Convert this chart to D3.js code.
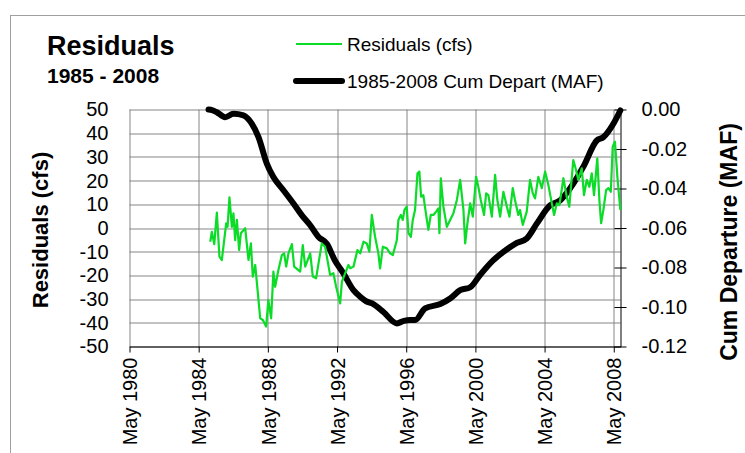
<!DOCTYPE html>
<html>
<head>
<meta charset="utf-8">
<script src="https://cdn.jsdelivr.net/npm/d3@7"></script>
<style>
  body { margin: 0; background: #fff; }
  svg { font-family: "Liberation Sans", Arial, sans-serif; }
</style>
</head>
<body>
<div id="chart"></div>
<script>
// residuals (cfs), decimal year / value
var resYears = [1985.0, 1985.09, 1985.23, 1985.38, 1985.53, 1985.67, 1985.92, 1986.0, 1986.11, 1986.25,
  1986.34, 1986.44, 1986.54, 1986.67, 1986.77, 1987.02, 1987.21, 1987.35, 1987.46, 1987.6,
  1987.89, 1988.04, 1988.23, 1988.36, 1988.52, 1988.65, 1988.75, 1988.94, 1989.14, 1989.27,
  1989.39, 1989.52, 1989.72, 1989.85, 1990.2, 1990.35, 1990.49, 1990.78, 1990.93, 1991.12,
  1991.26, 1991.45, 1991.64, 1991.93, 1992.12, 1992.28, 1992.51, 1992.61, 1992.8, 1992.99,
  1993.09, 1993.28, 1993.51, 1993.67, 1993.86, 1994.05, 1994.2, 1994.34, 1994.53, 1994.72,
  1994.82, 1994.98, 1995.21, 1995.4, 1995.56, 1995.79, 1995.88, 1996.02, 1996.13, 1996.23,
  1996.36, 1996.46, 1996.6, 1996.71, 1996.84, 1996.98, 1997.09, 1997.19, 1997.32, 1997.48,
  1997.61, 1997.75, 1997.9, 1998.06, 1998.19, 1998.25, 1998.33, 1998.48, 1998.68, 1998.87,
  1999.06, 1999.26, 1999.45, 1999.64, 1999.74, 1999.87, 2000.03, 2000.18, 2000.37, 2000.5,
  2000.64, 2000.83, 2000.95, 2001.08, 2001.28, 2001.47, 2001.6, 2001.76, 2001.95, 2002.15,
  2002.3, 2002.49, 2002.62, 2002.81, 2002.91, 2003.07, 2003.3, 2003.49, 2003.65, 2003.78,
  2003.97, 2004.17, 2004.36, 2004.55, 2004.75, 2004.88, 2005.04, 2005.19, 2005.42, 2005.61,
  2005.76, 2005.9, 2005.99, 2006.15, 2006.28, 2006.48, 2006.61, 2006.77, 2006.92, 2007.06,
  2007.19, 2007.38, 2007.5, 2007.6, 2007.73, 2007.89, 2008.02, 2008.16, 2008.27, 2008.4,
  2008.54, 2008.71]
var resValues = [-5.8, -1.6, -6.8, 6.5, -12.1, -13.5, 2, 0.5, 12.9, 0.5,
  6.2, -5.1, 3.4, -9.3, -2.2, -0.1, -13.5, -6.5, -20.5, -15.6,
  -38.1, -38.8, -41.6, -30.4, -38.1, -18.4, -24.8, -17.7, -11.4, -10.7,
  -16.3, -10.7, -6.8, -16.3, -18.4, -7.2, -16.3, -10.7, -20.5, -21.2,
  -14.9, -6.5, -7.9, -19.8, -19.1, -24.8, -31.8, -22.7, -19.1, -15.6,
  -17, -16.3, -9.3, -10.7, -5.8, -6.5, -10, 5.5, -3.7, -10.7,
  -17, -7.9, -8.6, -10.7, -11.4, -5.1, 3.4, 5.5, 3.4, 7.6,
  9, -2.2, -3.7, 3.4, 7.6, 23.1, 23.8, 13.2, 13.9, 5.5,
  -0.8, 5.5, 5.5, 6.9, 8.3, -2.2, 21, 9, 0.5, 3.4,
  6.2, 11.8, 20.3, 7.6, -6.5, 2, 10.4, 4.8, 21.6, 17.4,
  11.8, 5.5, 14.6, 13.9, 4.8, 22.4, 11.8, 4.8, 15.3, 9,
  4.8, 16.8, 11.8, 5.5, 7.6, 1.3, 6.9, 20.3, 14.6, 12.5,
  21.6, 16.8, 23.8, 18.1, 10.4, 5.5, 10.4, 9.7, 21, 13.2,
  9, 21, 28.7, 24.5, 20.3, 25.2, 13.9, 20.3, 17.4, 23.1,
  13.9, 29.4, 11.8, 2, 7.6, 16, 16.8, 15.3, 34.3, 36.4,
  21.6, 7.6]

// 1985-2008 cumulative departure (MAF)
var cumYears = [1984.9, 1985.1, 1985.38, 1985.86, 1986.34, 1986.92, 1987.4, 1987.79, 1988.27, 1988.65,
  1989.23, 1989.81, 1990.3, 1990.78, 1991.26, 1991.74, 1992.2, 1992.7, 1993.28, 1993.67,
  1994.0, 1994.43, 1995.0, 1995.79, 1996.2, 1996.56, 1996.85, 1997.42, 1998.3, 1998.87,
  1999.45, 2000.03, 2000.6, 2001.37, 2001.95, 2002.63, 2003.3, 2003.88, 2004.65, 2005.23,
  2005.8, 2006.57, 2007.35, 2007.73, 2008.31, 2008.71]
var cumValues = [0, -0.0003, -0.0014, -0.0039, -0.0022, -0.003, -0.0072, -0.014, -0.0274, -0.0342,
  -0.0409, -0.0476, -0.0536, -0.0586, -0.0645, -0.068, -0.0763, -0.083, -0.0915, -0.0948,
  -0.097, -0.0985, -0.1024, -0.1083, -0.107, -0.1066, -0.1066, -0.1007, -0.0985, -0.0957,
  -0.0915, -0.09, -0.0838, -0.0763, -0.0721, -0.068, -0.0653, -0.0578, -0.0485, -0.046,
  -0.04, -0.029, -0.0157, -0.014, -0.0072, -0.0005]

var xTickDates = ["1980-05-01", "1984-05-01", "1988-05-01", "1992-05-01", "1996-05-01", "2000-05-01", "2004-05-01", "2008-05-01"]
var leftTicks = [50, 40, 30, 20, 10, 0, -10, -20, -30, -40, -50]
var rightTicks = [0, -0.02, -0.04, -0.06, -0.08, -0.10, -0.12]
var legendNames = ["Residuals (cfs)", "1985-2008 Cum Depart (MAF)"]
var seriesColors = ["#0adc28", "#000000"]

function decToDate(y){
    var yr = Math.floor(y)
    var start = new Date(yr, 0, 1), end = new Date(yr + 1, 0, 1)
    return new Date(+start + (y - yr) * (end - start))
}
var parseDay = d3.timeParse("%Y-%m-%d")
// excel style: plain hyphen for negatives
var hyphenFormat = d3.formatLocale({decimal: ".", thousands: ",", grouping: [3], currency: ["", ""], minus: "-"})

var width = 745, height = 453
var margin = {top: 109.5, right: 124.5, bottom: 106.5, left: 129.5}
var plotW = width - margin.left - margin.right,
    plotH = height - margin.top - margin.bottom

var svg = d3.select("#chart").append("svg")
    .attr("width", width).attr("height", height)

// chart frame
svg.append("rect").attr("x", 10.5).attr("y", 15.5).attr("width", 760).attr("height", 460)
    .style("fill", "none").style("stroke", "#a0a0a0").style("stroke-width", 1)

var g = svg.append("g").attr("transform", "translate(" + margin.left + "," + margin.top + ")")

var x = d3.scaleTime()
    .domain([parseDay("1980-05-01"), decToDate(2008.72)])
    .range([0, plotW])
var yL = d3.scaleLinear().domain([-50, 50]).range([plotH, 0])
var yR = d3.scaleLinear().domain([-0.12, 0]).range([plotH, 0])

var tickDates = xTickDates.map(parseDay)

// gridlines
g.append("g").selectAll("line").data(leftTicks).enter().append("line")
    .attr("x1", 0).attr("x2", plotW)
    .attr("y1", function(d){ return Math.round(yL(d)) + 0.5 })
    .attr("y2", function(d){ return Math.round(yL(d)) + 0.5 })
    .style("stroke", "#858585").style("stroke-width", 1)
g.append("g").selectAll("line").data(tickDates).enter().append("line")
    .attr("x1", function(d){ return Math.round(x(d)) + 0.5 })
    .attr("x2", function(d){ return Math.round(x(d)) + 0.5 })
    .attr("y1", 0).attr("y2", plotH)
    .style("stroke", "#858585").style("stroke-width", 1)

// bottom axis
var xAxis = g.append("g").attr("transform", "translate(0," + plotH + ")")
    .call(d3.axisBottom(x).tickValues(tickDates).tickFormat(d3.timeFormat("%b %Y")).tickSize(6).tickSizeOuter(0))
xAxis.select(".domain").attr("stroke", "#000")
xAxis.selectAll("text")
    .style("font-size", "20px").style("fill", "#000")
    .attr("text-anchor", "end")
    .attr("transform", "rotate(-90)")
    .attr("x", -11).attr("y", 0).attr("dy", "0.36em")

// left axis (labels only)
var yAxisL = g.append("g")
    .call(d3.axisLeft(yL).tickValues(leftTicks).tickFormat(hyphenFormat.format("d")).tickSize(0).tickPadding(21))
yAxisL.select(".domain").remove()
yAxisL.selectAll("text").style("font-size", "20px").style("fill", "#000")

// right axis with crossing ticks
var yAxisR = g.append("g").attr("transform", "translate(" + plotW + ",0)")
    .call(d3.axisRight(yR).tickValues(rightTicks).tickFormat(hyphenFormat.format(".2f")).tickSize(6).tickSizeOuter(0).tickPadding(15))
yAxisR.select(".domain").attr("stroke", "#000")
yAxisR.selectAll(".tick line").attr("x1", -6)
yAxisR.selectAll("text").style("font-size", "20px").style("fill", "#000")

// axis titles
svg.append("text").attr("transform", "translate(48,230) rotate(-90)")
    .attr("text-anchor", "middle").style("font-size", "22px").style("font-weight", "bold")
    .text("Residuals (cfs)")
svg.append("text").attr("transform", "translate(737,242) rotate(-90)")
    .attr("text-anchor", "middle").style("font-size", "23px").style("font-weight", "bold")
    .text("Cum Departure (MAF)")

// lines
var cumData = cumYears.map(function(d, i){ return {date: decToDate(d), v: cumValues[i]} })
var resData = resYears.map(function(d, i){ return {date: decToDate(d), v: resValues[i]} })

g.append("path").datum(cumData)
    .attr("d", d3.line().x(function(d){ return x(d.date) }).y(function(d){ return yR(d.v) }).curve(d3.curveMonotoneX))
    .style("fill", "none").style("stroke", seriesColors[1]).style("stroke-width", 6)
    .style("stroke-linejoin", "round").style("stroke-linecap", "round")
g.append("path").datum(resData)
    .attr("d", d3.line().x(function(d){ return x(d.date) }).y(function(d){ return yL(d.v) }))
    .style("fill", "none").style("stroke", seriesColors[0]).style("stroke-width", 2.2)
    .style("stroke-linejoin", "round")

// title
svg.append("text").attr("x", 47).attr("y", 55).text("Residuals")
    .style("font-size", "27px").style("font-weight", "bold")
svg.append("text").attr("x", 47).attr("y", 83).text("1985 - 2008")
    .style("font-size", "21px").style("font-weight", "bold")

// legend
var legendY = [44, 81]
var legendW = [2.2, 6]
for (var i = 0; i < 2; i++) {
    svg.append("line").attr("x1", 296).attr("x2", 342).attr("y1", legendY[i]).attr("y2", legendY[i])
        .style("stroke", seriesColors[i]).style("stroke-width", legendW[i])
        .style("stroke-linecap", i == 1 ? "round" : "butt")
    svg.append("text").attr("x", 347).attr("y", legendY[i] + 7).text(legendNames[i])
        .style("font-size", "19px")
}
</script>
</body>
</html>
